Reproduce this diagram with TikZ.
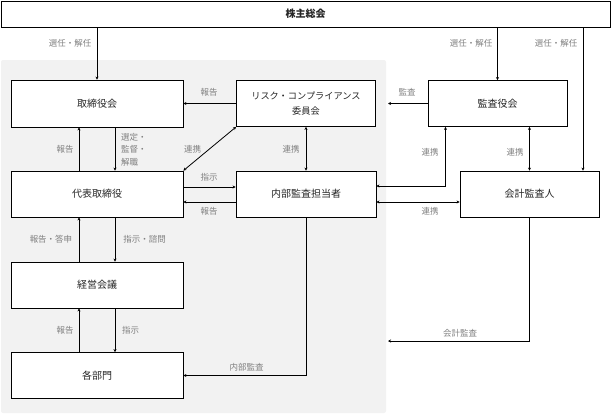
\documentclass[tikz,border=0pt]{standalone}
\usepackage{fontspec}
\setmainfont{Noto Sans CJK JP}
\usetikzlibrary{arrows.meta}
\begin{document}
\begin{tikzpicture}[x=1pt,y=-1pt,
  box/.style={draw, fill=white, line width=0.8pt, inner sep=0pt, text=black!85,
    font=\fontsize{10}{12}\selectfont, align=center},
  lbl/.style={text=black!50, font=\fontsize{8.5}{12.5}\selectfont, inner sep=0pt},
  arr/.style={line width=0.8pt, -{Stealth[length=3pt,width=3pt]}},
  arrs/.style={line width=0.8pt, {Stealth[length=3pt,width=3pt]}-{Stealth[length=3pt,width=3pt]}}]
\useasboundingbox (0,0) rectangle (611,415);
\fill[black!5, rounded corners=2pt] (1,60) rectangle (386,413);

\node[box, minimum width=609pt, minimum height=26pt, font=\fontsize{10}{12}\selectfont\bfseries] (sh) at (305.5,14) {株主総会};
\node[box, minimum width=172pt, minimum height=47pt] (tor) at (97,103.5) {取締役会};
\node[box, minimum width=139pt, minimum height=46pt, font=\fontsize{9.2}{14.3}\selectfont] (risk) at (306,103.5) {リスク・コンプライアンス\\委員会};
\node[box, minimum width=139pt, minimum height=46pt] (kansa) at (497.5,103.5) {監査役会};
\node[box, minimum width=172pt, minimum height=46pt] (ceo) at (97,194) {代表取締役};
\node[box, minimum width=140pt, minimum height=46pt] (ia) at (306,194) {内部監査担当者};
\node[box, minimum width=139pt, minimum height=46pt] (ext) at (529.5,194) {会計監査人};
\node[box, minimum width=172pt, minimum height=46pt] (mgmt) at (97,285) {経営会議};
\node[box, minimum width=172pt, minimum height=46pt] (dept) at (97,375.5) {各部門};

\coordinate (c1) at ([xshift=53.5pt]ext.north);
\coordinate (g1) at (388,103.5);
\coordinate (g2) at (388,341);

\draw[arr] (sh.south -| tor.north) -- (tor.north);
\draw[arr] (sh.south -| kansa.north) -- (kansa.north);
\draw[arr] (sh.south -| c1) -- (c1);
\draw[arr] (risk.west) -- (tor.east);
\draw[arr] (kansa.west) -- (g1);
\draw[arrs] (risk.south west) -- (ceo.north east);
\draw[arrs] (risk.south) -- (ia.north);
\draw[arr] ([xshift=-18pt]ceo.north) -- ([xshift=-18pt]tor.south);
\draw[arr] ([xshift=18pt]tor.south) -- ([xshift=18pt]ceo.north);
\draw[arr] ([yshift=7pt]ceo.east) -- ([yshift=7pt]ia.west);
\draw[arr] ([yshift=-8pt]ia.west) -- ([yshift=-8pt]ceo.east);
\draw[arr] ([xshift=-18pt]mgmt.north) -- ([xshift=-18pt]ceo.south);
\draw[arr] ([xshift=18pt]ceo.south) -- ([xshift=18pt]mgmt.north);
\draw[arr] ([xshift=-18pt]dept.north) -- ([xshift=-18pt]mgmt.south);
\draw[arr] ([xshift=18pt]mgmt.south) -- ([xshift=18pt]dept.north);
\draw[arr] (ia.south) |- (dept.east);
\draw[arrs] ([xshift=-52pt]kansa.south) |- ([yshift=8pt]ia.east);
\draw[arrs] ([yshift=-8pt]ia.east) -- ([yshift=-8pt]ext.west);
\draw[arrs] (kansa.south -| ext.north) -- (ext.north);
\draw[arr] (ext.south) |- (g2);

\node[lbl] (l1) at (70,43) {選任・解任};
\node[lbl] (l2) at (471,43) {選任・解任};
\node[lbl] (l3) at (556,43) {選任・解任};
\node[lbl] (l4) at (209,92) {報告};
\node[lbl] (l5) at (407,92) {監査};
\node[lbl] (l6) at (65,149) {報告};
\node[lbl, anchor=west, align=left] (l7) at (121,149.5) {選定・\\監督・\\解職};
\node[lbl] (l8) at (192.5,149) {連携};
\node[lbl] (l9) at (291,149) {連携};
\node[lbl] (l10) at (209,177) {指示};
\node[lbl] (l11) at (209,211) {報告};
\node[lbl] (l12) at (51,239) {報告・答申};
\node[lbl] (l13) at (144.5,239) {指示・諮問};
\node[lbl] (l14) at (65,330) {報告};
\node[lbl] (l15) at (130.5,330) {指示};
\node[lbl] (l16) at (246.5,367) {内部監査};
\node[lbl] (l17) at (430,152.5) {連携};
\node[lbl] (l18) at (515,152.5) {連携};
\node[lbl] (l19) at (430,211) {連携};
\node[lbl] (l20) at (460,333) {会計監査};
\end{tikzpicture}
\end{document}
